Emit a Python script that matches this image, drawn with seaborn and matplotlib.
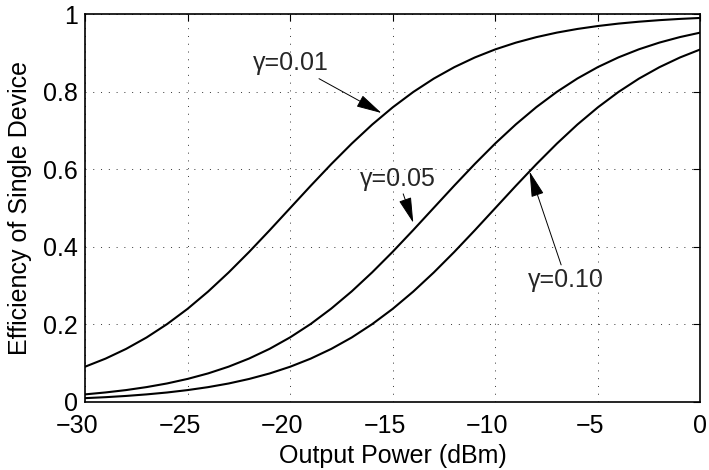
import matplotlib
matplotlib.use("Agg")
import matplotlib.pyplot as plt
import matplotlib.transforms as mtransforms
import seaborn as sns
import pandas as pd

# Output power (dBm)
power_dbm = list(range(-30, 1))

# Efficiency, one value per dBm
eff_g001 = [0.0909, 0.1118, 0.1368, 0.1663, 0.2008, 0.2402, 0.2847, 0.3339, 0.3869, 0.4427,
            0.5000, 0.5573, 0.6131, 0.6661, 0.7153, 0.7597, 0.7992, 0.8337, 0.8632, 0.8882,
            0.9091, 0.9264, 0.9406, 0.9523, 0.9617, 0.9693, 0.9755, 0.9804, 0.9844, 0.9876,
            0.9901]
eff_g005 = [0.0196, 0.0246, 0.0307, 0.0384, 0.0478, 0.0595, 0.0737, 0.0911, 0.1121, 0.1371,
            0.1667, 0.2011, 0.2407, 0.2852, 0.3344, 0.3874, 0.4433, 0.5006, 0.5579, 0.6137,
            0.6667, 0.7157, 0.7602, 0.7996, 0.8340, 0.8635, 0.8884, 0.9093, 0.9266, 0.9408,
            0.9524]
eff_g010 = [0.0099, 0.0124, 0.0156, 0.0196, 0.0245, 0.0307, 0.0383, 0.0477, 0.0594, 0.0736,
            0.0909, 0.1118, 0.1368, 0.1663, 0.2008, 0.2402, 0.2847, 0.3339, 0.3869, 0.4427,
            0.5000, 0.5573, 0.6131, 0.6661, 0.7153, 0.7597, 0.7992, 0.8337, 0.8632, 0.8882,
            0.9091]

series_names = ["γ=0.01", "γ=0.05", "γ=0.10"]
x_ticks = [-30, -25, -20, -15, -10, -5, 0]
x_tick_labels = ["\u221230", "\u221225", "\u221220", "\u221215", "\u221210", "\u22125", "0"]
y_ticks = [0, 0.2, 0.4, 0.6, 0.8, 1]
y_tick_labels = ["0", "0.2", "0.4", "0.6", "0.8", "1"]

df = pd.DataFrame({
    "power": power_dbm * 3,
    "eff": eff_g001 + eff_g005 + eff_g010,
    "gamma": [series_names[0]] * len(power_dbm) + [series_names[1]] * len(power_dbm)
             + [series_names[2]] * len(power_dbm),
})

sns.set_style("white")
plt.rcParams["font.family"] = ["Liberation Sans", "DejaVu Sans"]
FS = 18

fig = plt.figure(figsize=(7.09, 4.70), dpi=100)
ax = fig.add_axes([0.1199, 0.1447, 0.988 - 0.1199, 0.970 - 0.1447])

sns.lineplot(data=df, x="power", y="eff", units="gamma", estimator=None,
             color="black", linewidth=1.5, ax=ax, legend=False)

ax.set_xlim(-30, 0)
ax.set_ylim(0, 1)
ax.set_xticks(x_ticks)
ax.set_xticklabels(x_tick_labels)
ax.set_yticks(y_ticks)
ax.set_yticklabels(y_tick_labels)
ax.grid(True, linestyle=(0, (1, 7)), color="black", linewidth=0.7, alpha=0.8)
ax.tick_params(direction="in", length=5, width=0.8, top=True, right=True,
               labelsize=FS, color="black", labelcolor="black")
ax.tick_params(axis="x", pad=9)
ax.tick_params(axis="y", pad=5)
for s in ax.spines.values():
    s.set_visible(True)
    s.set_color("black")
    s.set_linewidth(1.2)

# negative tick labels sit slightly left of their ticks, as in the original
shift = mtransforms.ScaledTranslation(-8 / 100, 0, fig.dpi_scale_trans)
for tick in ax.xaxis.get_major_ticks():
    if tick.label1.get_text().startswith("\u2212"):
        tick.label1.set_transform(tick.label1.get_transform() + shift)

ax.set_xlabel("Output Power (dBm)", fontsize=FS, color="black", labelpad=4)
ax.set_ylabel("Efficiency of Single Device", fontsize=FS, color="black", labelpad=8)

arrow = dict(arrowstyle="-|>,head_length=1.0,head_width=0.25", color="black",
             lw=0.7, shrinkA=0, shrinkB=0, mutation_scale=16)
ax.annotate(series_names[0], xy=(-15.55, 0.745), xytext=(-18.1, 0.842),
            fontsize=FS, ha="right", va="bottom", arrowprops=arrow)
ax.annotate(series_names[1], xy=(-14.0, 0.462), xytext=(-14.75, 0.545),
            fontsize=FS, ha="center", va="bottom", arrowprops=arrow)
ax.annotate(series_names[2], xy=(-8.33, 0.594), xytext=(-6.54, 0.345),
            fontsize=FS, ha="center", va="top", arrowprops=arrow)

fig.savefig("out.png", dpi=100)
